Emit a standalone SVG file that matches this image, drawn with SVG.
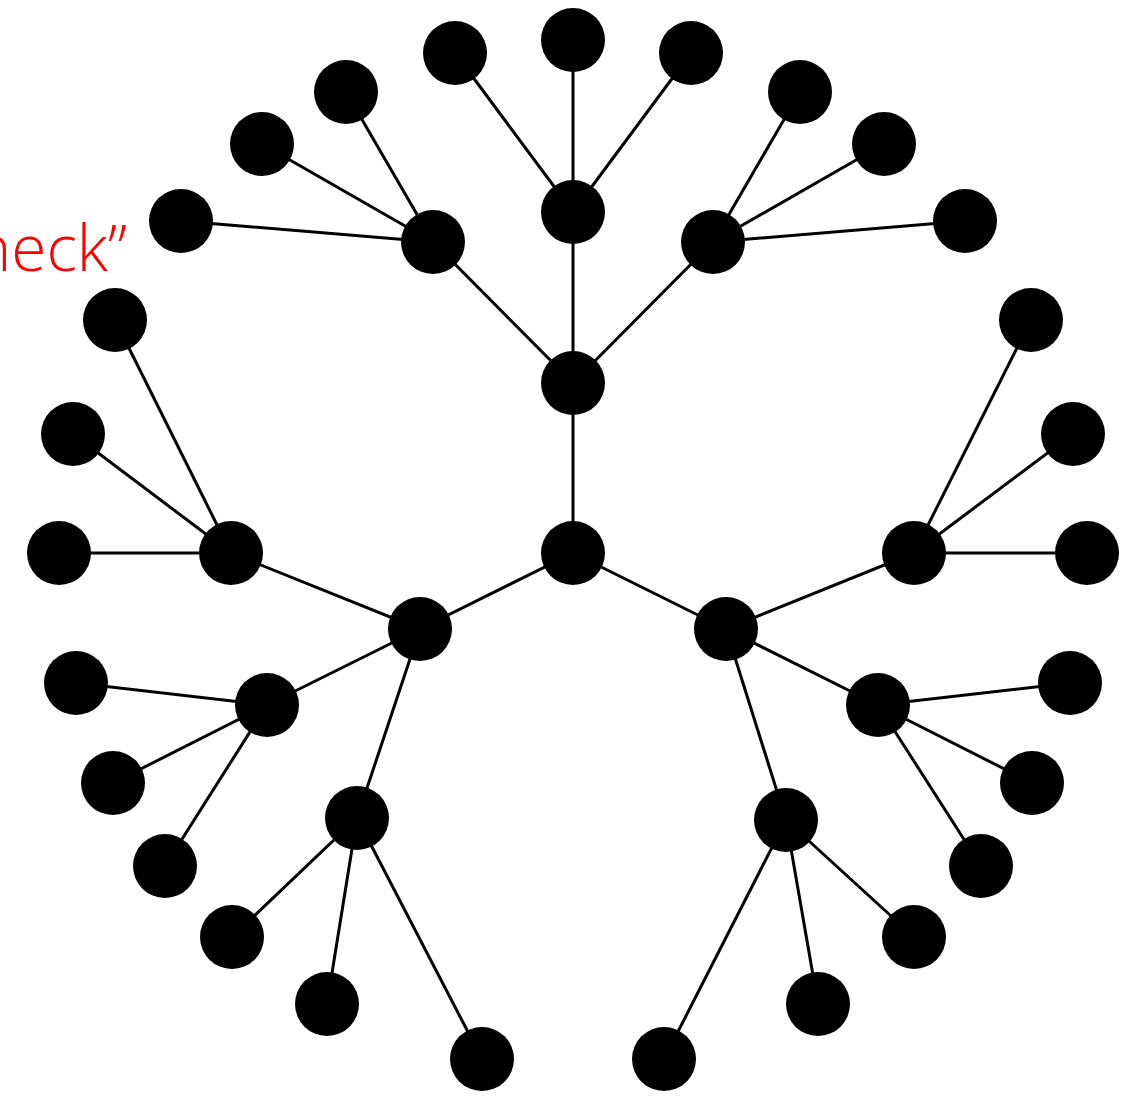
<svg xmlns="http://www.w3.org/2000/svg" width="1146" height="1096" viewBox="0 0 1146 1096">
<style>
.n{fill:#000}
.e line{stroke:#000;stroke-width:3}
.t{font-family:"Open Sans","Liberation Sans",sans-serif;font-weight:300;font-size:64px;fill:#ff0000}
</style>
<rect width="1146" height="1096" fill="#fff"/>
<g class="e" id="edges">
<line x1="573" y1="553" x2="573" y2="383"/>
<line x1="573" y1="383" x2="573" y2="212"/>
<line x1="573" y1="383" x2="433" y2="242"/>
<line x1="573" y1="383" x2="713" y2="242"/>
<line x1="573" y1="212" x2="455" y2="53"/>
<line x1="573" y1="212" x2="573" y2="40"/>
<line x1="573" y1="212" x2="691" y2="53"/>
<line x1="433" y1="242" x2="346" y2="92"/>
<line x1="433" y1="242" x2="262" y2="144"/>
<line x1="433" y1="242" x2="181" y2="221"/>
<line x1="713" y1="242" x2="800" y2="92"/>
<line x1="713" y1="242" x2="884" y2="144"/>
<line x1="713" y1="242" x2="965" y2="221"/>
<line x1="573" y1="553" x2="420" y2="629"/>
<line x1="420" y1="629" x2="231" y2="553"/>
<line x1="231" y1="553" x2="115" y2="320"/>
<line x1="231" y1="553" x2="73" y2="434"/>
<line x1="231" y1="553" x2="59" y2="553"/>
<line x1="420" y1="629" x2="267" y2="705"/>
<line x1="267" y1="705" x2="76" y2="683"/>
<line x1="267" y1="705" x2="113" y2="783"/>
<line x1="267" y1="705" x2="165" y2="866"/>
<line x1="420" y1="629" x2="357" y2="818"/>
<line x1="357" y1="818" x2="232" y2="937"/>
<line x1="357" y1="818" x2="327" y2="1004"/>
<line x1="357" y1="818" x2="482" y2="1059"/>
<line x1="573" y1="553" x2="726" y2="629"/>
<line x1="726" y1="629" x2="914" y2="553"/>
<line x1="914" y1="553" x2="1031" y2="320"/>
<line x1="914" y1="553" x2="1073" y2="434"/>
<line x1="914" y1="553" x2="1087" y2="553"/>
<line x1="726" y1="629" x2="878" y2="705"/>
<line x1="878" y1="705" x2="1070" y2="683"/>
<line x1="878" y1="705" x2="1032" y2="783"/>
<line x1="878" y1="705" x2="981" y2="866"/>
<line x1="726" y1="629" x2="786" y2="820"/>
<line x1="786" y1="820" x2="914" y2="937"/>
<line x1="786" y1="820" x2="818" y2="1004"/>
<line x1="786" y1="820" x2="664" y2="1059"/>
</g>
<g id="n0"><circle class="n" cx="573" cy="553" r="32"/></g>
<g id="n1"><circle class="n" cx="573" cy="383" r="32"/></g>
<g id="n2"><circle class="n" cx="573" cy="212" r="32"/></g>
<g id="n3"><circle class="n" cx="433" cy="242" r="32"/></g>
<g id="n4"><circle class="n" cx="713" cy="242" r="32"/></g>
<g id="n5"><circle class="n" cx="455" cy="53" r="32"/></g>
<g id="n6"><circle class="n" cx="573" cy="40" r="32"/></g>
<g id="n7"><circle class="n" cx="691" cy="53" r="32"/></g>
<g id="n8"><circle class="n" cx="346" cy="92" r="32"/></g>
<g id="n9"><circle class="n" cx="262" cy="144" r="32"/></g>
<g id="n10"><circle class="n" cx="181" cy="221" r="32"/></g>
<g id="n11"><circle class="n" cx="800" cy="92" r="32"/></g>
<g id="n12"><circle class="n" cx="884" cy="144" r="32"/></g>
<g id="n13"><circle class="n" cx="965" cy="221" r="32"/></g>
<g id="n14"><circle class="n" cx="420" cy="629" r="32"/></g>
<g id="n15"><circle class="n" cx="231" cy="553" r="32"/></g>
<g id="n16"><circle class="n" cx="115" cy="320" r="32"/></g>
<g id="n17"><circle class="n" cx="73" cy="434" r="32"/></g>
<g id="n18"><circle class="n" cx="59" cy="553" r="32"/></g>
<g id="n19"><circle class="n" cx="267" cy="705" r="32"/></g>
<g id="n20"><circle class="n" cx="76" cy="683" r="32"/></g>
<g id="n21"><circle class="n" cx="113" cy="783" r="32"/></g>
<g id="n22"><circle class="n" cx="165" cy="866" r="32"/></g>
<g id="n23"><circle class="n" cx="357" cy="818" r="32"/></g>
<g id="n24"><circle class="n" cx="232" cy="937" r="32"/></g>
<g id="n25"><circle class="n" cx="327" cy="1004" r="32"/></g>
<g id="n26"><circle class="n" cx="482" cy="1059" r="32"/></g>
<g id="n27"><circle class="n" cx="726" cy="629" r="32"/></g>
<g id="n28"><circle class="n" cx="914" cy="553" r="32"/></g>
<g id="n29"><circle class="n" cx="1031" cy="320" r="32"/></g>
<g id="n30"><circle class="n" cx="1073" cy="434" r="32"/></g>
<g id="n31"><circle class="n" cx="1087" cy="553" r="32"/></g>
<g id="n32"><circle class="n" cx="878" cy="705" r="32"/></g>
<g id="n33"><circle class="n" cx="1070" cy="683" r="32"/></g>
<g id="n34"><circle class="n" cx="1032" cy="783" r="32"/></g>
<g id="n35"><circle class="n" cx="981" cy="866" r="32"/></g>
<g id="n36"><circle class="n" cx="786" cy="820" r="32"/></g>
<g id="n37"><circle class="n" cx="914" cy="937" r="32"/></g>
<g id="n38"><circle class="n" cx="818" cy="1004" r="32"/></g>
<g id="n39"><circle class="n" cx="664" cy="1059" r="32"/></g>
<g id="label"><text class="t" x="127" y="271" text-anchor="end">heck”</text></g>
</svg>
